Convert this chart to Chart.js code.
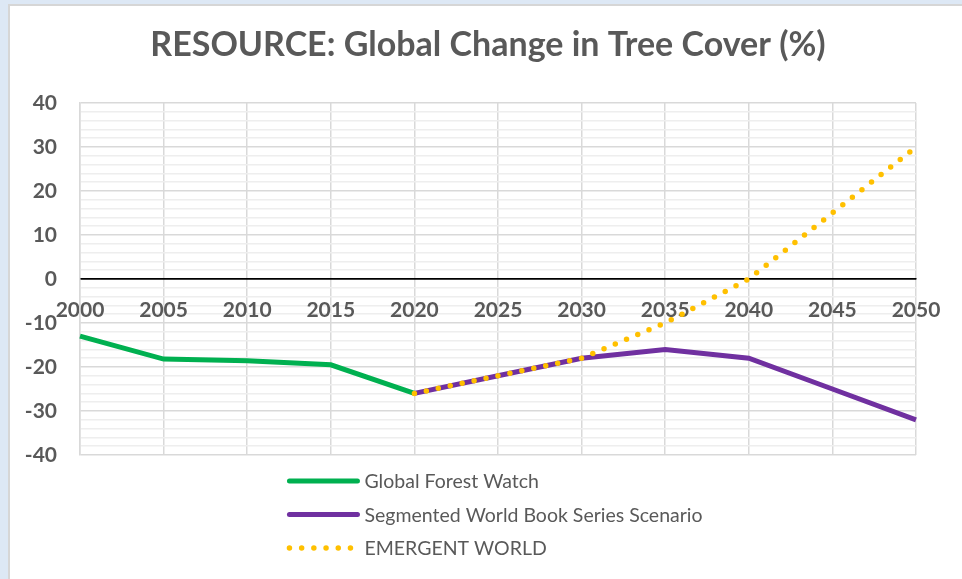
<!DOCTYPE html>
<html>
<head>
<meta charset="utf-8">
<script src="https://cdn.jsdelivr.net/npm/chart.js@4/dist/chart.umd.min.js"></script>
<style>
  html, body { margin: 0; padding: 0; }
  body { width: 962px; height: 579px; background: #dde8f5; position: relative; overflow: hidden; }
  .card { position: absolute; left: 8px; top: 4px; width: 970px; height: 590px; background: #fff;
          border-left: 2px solid #d6d6d6; border-top: 2px solid #d6d6d6; }
  .wrap { position: absolute; left: 0; top: 0; width: 962px; height: 579px; }
</style>
</head>
<body>
<div class="card"></div>
<div class="wrap"><canvas id="grafico"></canvas></div>
<script>
const anos = ['2000', '2005', '2010', '2015', '2020', '2025', '2030', '2035', '2040', '2045', '2050'];
const globalForestWatch = [-13, -18.2, -18.6, -19.5, -26, null, null, null, null, null, null];
const segmentedWorld = [null, null, null, null, -26, -22, -18, -16, -18, -25, -32];
const emergentWorld = [null, null, null, null, -26, -22, -18, -10, 0, 15, 30];
const yMin = -40, yMax = 40;

const corTexto = '#595959';
const fonte = 'Lato, "Liberation Sans", sans-serif';

// titulo centralizado no cartao (nao so no canvas)
const ajusteTitulo = {
  id: 'ajusteTitulo',
  afterLayout(chart) {
    if (chart.titleBlock) chart.titleBlock.left += 50;
  }
};

// legenda vertical centralizada abaixo do grafico
const legendaVertical = {
  id: 'legendaVertical',
  afterDraw(chart) {
    const ctx = chart.ctx;
    const area = chart.chartArea;
    const sets = chart.data.datasets;
    ctx.save();
    ctx.font = '19.5px ' + fonte;
    const maxW = Math.max(...sets.map(d => ctx.measureText(d.label).width));
    const total = 77 + maxW;
    const x0 = (area.left + area.right) / 2 - total / 2 - 3;
    sets.forEach((d, i) => {
      const y = area.bottom + 26 + i * 33.5;
      ctx.beginPath();
      ctx.lineWidth = d.borderWidth;
      ctx.strokeStyle = d.borderColor;
      ctx.lineCap = 'round';
      ctx.setLineDash(d.borderDash || []);
      ctx.moveTo(x0 + 2, y);
      ctx.lineTo(x0 + 70, y);
      ctx.stroke();
      ctx.setLineDash([]);
      ctx.fillStyle = corTexto;
      ctx.textBaseline = 'middle';
      ctx.textAlign = 'left';
      ctx.fillText(d.label, x0 + 77, y + 1);
    });
    ctx.restore();
  }
};

function renderGrafico() {
  const ctx = document.getElementById('grafico');
  new Chart(ctx, {
    type: 'line',
    data: {
      labels: anos,
      datasets: [
        {
          label: 'Global Forest Watch',
          data: globalForestWatch,
          borderColor: '#00b050',
          borderWidth: 5,
          order: 2
        },
        {
          label: 'Segmented World Book Series Scenario',
          data: segmentedWorld,
          borderColor: '#7030a0',
          borderWidth: 5,
          order: 1
        },
        {
          label: 'EMERGENT WORLD',
          data: emergentWorld,
          borderColor: '#ffc000',
          borderWidth: 5.5,
          borderDash: [0, 12.2],
          borderCapStyle: 'round',
          order: 0
        }
      ]
    },
    options: {
      responsive: true,
      maintainAspectRatio: false,
      animation: false,
      elements: { point: { radius: 0 }, line: { tension: 0 } },
      layout: { padding: { left: 10, right: 46, bottom: 124, top: 0 } },
      plugins: {
        legend: { display: false },
        tooltip: { enabled: false },
        title: {
          display: true,
          text: 'RESOURCE: Global Change in Tree Cover (%)',
          color: corTexto,
          font: { family: fonte, size: 34, weight: 'bold' },
          padding: { top: 25, bottom: 37.2 }
        }
      },
      scales: {
        x: {
          position: { y: 0 },
          offset: false,
          grid: { color: '#d9d9d9', lineWidth: 1.5, drawTicks: false },
          border: { display: true, color: '#000', width: 1.5 },
          ticks: {
            color: corTexto,
            padding: 19,
            maxRotation: 0,
            autoSkip: false,
            font: { family: fonte, size: 21, weight: 'bold' }
          }
        },
        y: {
          min: yMin,
          max: yMax,
          afterFit: s => { s.width = 70; },
          grid: {
            drawTicks: false,
            lineWidth: 1.5,
            color: c => c.tick.value === 0 ? '#000' : (c.tick.value % 10 === 0 ? '#d9d9d9' : '#eeeeee')
          },
          border: { display: true, color: '#d9d9d9', width: 1.5 },
          ticks: {
            stepSize: 2,
            autoSkip: false,
            padding: 23,
            color: corTexto,
            font: { family: fonte, size: 21, weight: 'bold' },
            callback: v => (v % 10 === 0 ? v : '')
          }
        }
      }
    },
    plugins: [ajusteTitulo, legendaVertical]
  });
}

document.addEventListener('DOMContentLoaded', renderGrafico);
</script>
</body>
</html>
